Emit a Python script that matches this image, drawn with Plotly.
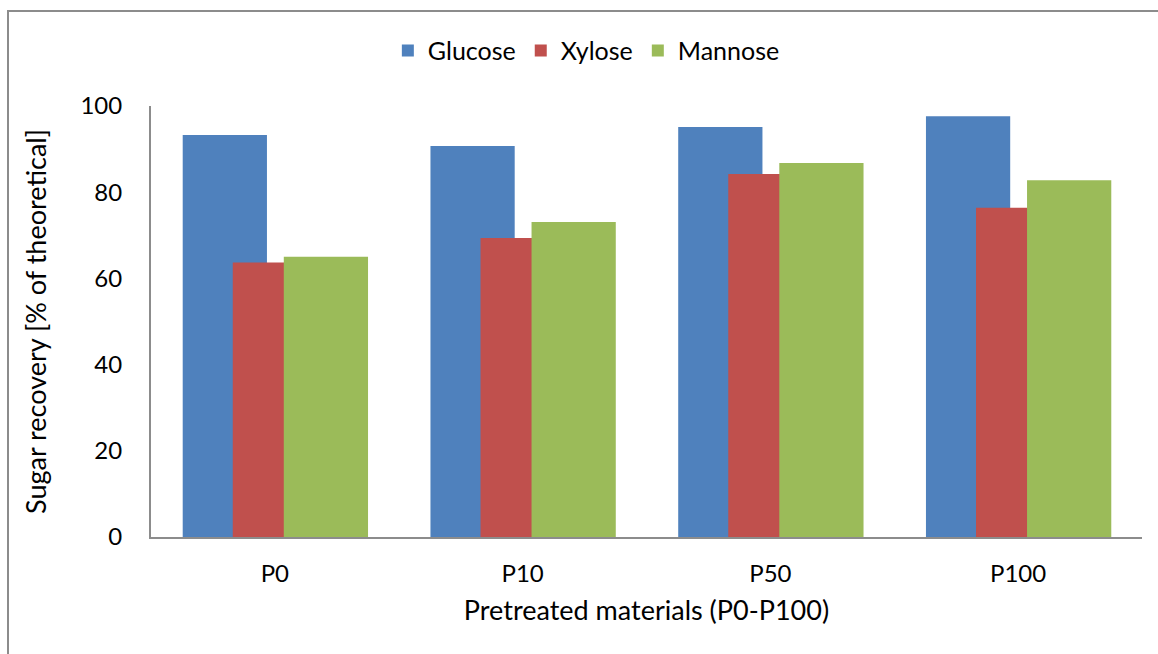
import plotly.graph_objects as go

categories = ["P0", "P10", "P50", "P100"]
glucose = [93.3, 90.7, 95.1, 97.6]
xylose = [63.7, 69.4, 84.2, 76.4]
mannose = [65.0, 73.1, 86.8, 82.8]

series = [
    ("Glucose", glucose, "#4F81BD", -0.372),
    ("Xylose", xylose, "#C0504D", -0.170),
    ("Mannose", mannose, "#9BBB59", 0.036),
]

FONT = "Lato"

fig = go.Figure()
for name, vals, color, off in series:
    fig.add_trace(go.Bar(
        x=categories, y=vals, name=name,
        marker=dict(color=color, line=dict(width=0)),
        width=0.34, offset=off,
    ))

fig.update_layout(
    width=1158, height=654,
    margin=dict(l=151, r=16, t=106, b=117),
    paper_bgcolor="white", plot_bgcolor="white",
    barmode="overlay",
    font=dict(family=FONT, size=24, color="black"),
    showlegend=True,
    legend=dict(
        orientation="h", x=0.239, xanchor="left", y=1.128, yanchor="middle",
        font=dict(family=FONT, size=25, color="black"),
        bgcolor="rgba(0,0,0,0)", traceorder="normal",
    ),
    xaxis=dict(
        showline=True, linecolor="#8c8c8c", linewidth=2,
        showgrid=False, ticks="outside", ticklen=14, tickcolor="rgba(0,0,0,0)",
        tickfont=dict(family=FONT, size=24),
        title=dict(text="Pretreated materials (P0-P100)", standoff=15,
                   font=dict(family=FONT, size=27)),
    ),
    yaxis=dict(
        range=[0, 100], dtick=20, showline=True, linecolor="#8c8c8c", linewidth=2,
        showgrid=False, zeroline=False, ticks="outside", ticklen=22,
        tickcolor="rgba(0,0,0,0)",
        tickfont=dict(family=FONT, size=24),
        title=dict(text="Sugar recovery [% of theoretical]", standoff=26,
                   font=dict(family=FONT, size=27)),
    ),
    shapes=[dict(
        type="rect", xref="paper", yref="paper",
        x0=-0.1443, x1=1.2, y0=-0.6, y1=1.2204,
        line=dict(color="#8c8c8c", width=2), fillcolor="rgba(0,0,0,0)", layer="below",
    )],
)

fig.write_html("out.html")
